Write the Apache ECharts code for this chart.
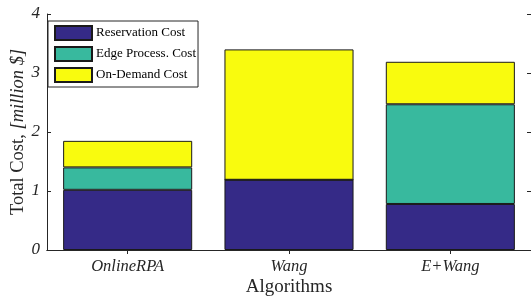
<!DOCTYPE html>
<html lang="en">
  <head>
    <meta charset="UTF-8" />
    <title>total-cost</title>
    <style>
      body {
        margin: 0;
        background: #fff;
      }
      #chart {
        width: 531px;
        height: 296px;
      }
    </style>
    <script src="https://cdn.jsdelivr.net/npm/echarts@6/dist/echarts.min.js"></script>
  </head>
  <body>
    <div id="chart"></div>
    <script>
      const algorithms = ["OnlineRPA", "Wang", "E+Wang"];
      const reservationCost = [1.02, 1.19, 0.78];
      const edgeCost = [0.38, 0, 1.69];
      const onDemandCost = [0.45, 2.21, 0.72];
      const yTicks = [0, 1, 2, 3, 4];

      const font = "Liberation Serif";
      const axisColor = "#262626";

      const chart = echarts.init(document.getElementById("chart"));

      function stackSeries(name, data, color) {
        return {
          name: name,
          type: "bar",
          stack: "total",
          data: data,
          barCategoryGap: "20%",
          itemStyle: { color: color, borderColor: "#1a1a1a", borderWidth: 1 },
        };
      }

      const boxAxis = {
        axisLine: { show: true, lineStyle: { color: axisColor, width: 1 } },
        axisTick: { show: true, inside: true, length: 4, lineStyle: { color: axisColor } },
        splitLine: { show: false },
      };

      chart.setOption({
        animation: false,
        textStyle: { fontFamily: font },
        grid: { left: 47, right: 0, top: 14, bottom: 46, containLabel: false, outerBoundsMode: "none" },
        legend: {
          left: 48,
          top: 21,
          orient: "vertical",
          itemWidth: 37,
          itemHeight: 14,
          itemGap: 5,
          padding: [4, 2, 4, 6],
          backgroundColor: "#fff",
          borderColor: axisColor,
          borderWidth: 1,
          icon: "rect",
          textStyle: { fontFamily: font, fontSize: 13, color: "#000", padding: [0, 0, 0, -1] },
        },
        xAxis: [
          {
            type: "category",
            data: algorithms,
            position: "bottom",
            name: "Algorithms",
            nameLocation: "middle",
            nameGap: 28,
            nameMoveOverlap: false,
            nameTextStyle: { fontFamily: font, fontSize: 19, color: "#262626" },
            ...boxAxis,
            axisTick: { ...boxAxis.axisTick, alignWithLabel: true },
            axisLabel: {
              fontFamily: font,
              fontSize: 16.5,
              fontStyle: "italic",
              color: "#262626",
              margin: 8,
            },
          },
          {
            type: "category",
            data: algorithms,
            position: "top",
            ...boxAxis,
            axisTick: { ...boxAxis.axisTick, alignWithLabel: true },
            axisLabel: { show: false },
          },
        ],
        yAxis: [
          {
            type: "value",
            min: yTicks[0],
            max: yTicks[yTicks.length - 1],
            interval: 1,
            position: "left",
            name: "{a|Total Cost, }{b|[million $]}",
            nameLocation: "middle",
            nameGap: 19,
            nameMoveOverlap: false,
            nameTextStyle: {
              rich: {
                a: { fontFamily: font, fontSize: 18.5, color: "#262626" },
                b: { fontFamily: font, fontSize: 18.5, fontStyle: "italic", color: "#262626" },
              },
            },
            ...boxAxis,
            axisLabel: {
              fontFamily: font,
              fontSize: 17,
              fontStyle: "italic",
              color: "#262626",
              margin: 7,
            },
          },
          {
            type: "value",
            min: yTicks[0],
            max: yTicks[yTicks.length - 1],
            interval: 1,
            position: "right",
            ...boxAxis,
            axisLabel: { show: false },
          },
        ],
        series: [
          stackSeries("Reservation Cost", reservationCost, "#352a87"),
          stackSeries("Edge Process. Cost", edgeCost, "#38b99e"),
          stackSeries("On-Demand Cost", onDemandCost, "#f9fb0e"),
        ],
      });
    </script>
  </body>
</html>
